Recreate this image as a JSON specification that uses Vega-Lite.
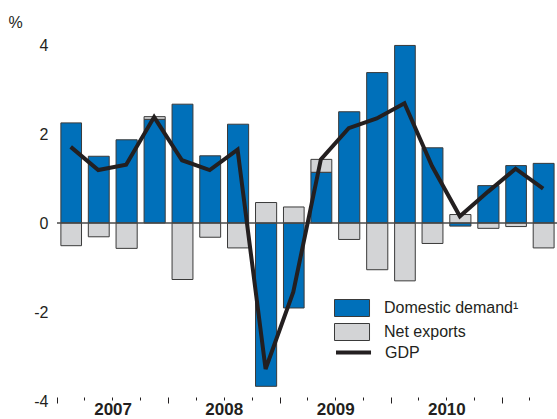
{
  "$schema": "https://vega.github.io/schema/vega-lite/v6.json",
  "width": 500,
  "height": 356,
  "autosize": {"type": "none"},
  "padding": {"left": 57, "top": 45, "right": 0, "bottom": 18},
  "background": "white",
  "config": {
    "view": {"stroke": null},
    "font": "Liberation Sans",
    "text": {"font": "Liberation Sans"}
  },
  "title": {
    "text": "Contributions to annual change in GDP growth rate, seasonally adjusted",
    "anchor": "start",
    "frame": "group",
    "offset": 9,
    "dx": 8,
    "fontSize": 16,
    "fontWeight": "normal",
    "color": "#231f20",
    "baseline": "alphabetic"
  },
  "datasets": {
    "components": [
      {"date": "2007-01-01", "series": "Domestic demand¹", "value": 2.25},
      {"date": "2007-01-01", "series": "Net exports", "value": -0.51},
      {"date": "2007-04-01", "series": "Domestic demand¹", "value": 1.50},
      {"date": "2007-04-01", "series": "Net exports", "value": -0.31},
      {"date": "2007-07-01", "series": "Domestic demand¹", "value": 1.87},
      {"date": "2007-07-01", "series": "Net exports", "value": -0.57},
      {"date": "2007-10-01", "series": "Domestic demand¹", "value": 2.33},
      {"date": "2007-10-01", "series": "Net exports", "value": 0.06},
      {"date": "2008-01-01", "series": "Domestic demand¹", "value": 2.67},
      {"date": "2008-01-01", "series": "Net exports", "value": -1.27},
      {"date": "2008-04-01", "series": "Domestic demand¹", "value": 1.51},
      {"date": "2008-04-01", "series": "Net exports", "value": -0.32},
      {"date": "2008-07-01", "series": "Domestic demand¹", "value": 2.22},
      {"date": "2008-07-01", "series": "Net exports", "value": -0.56},
      {"date": "2008-10-01", "series": "Domestic demand¹", "value": -3.67},
      {"date": "2008-10-01", "series": "Net exports", "value": 0.46},
      {"date": "2009-01-01", "series": "Domestic demand¹", "value": -1.91},
      {"date": "2009-01-01", "series": "Net exports", "value": 0.36},
      {"date": "2009-04-01", "series": "Domestic demand¹", "value": 1.14},
      {"date": "2009-04-01", "series": "Net exports", "value": 0.29},
      {"date": "2009-07-01", "series": "Domestic demand¹", "value": 2.50},
      {"date": "2009-07-01", "series": "Net exports", "value": -0.37},
      {"date": "2009-10-01", "series": "Domestic demand¹", "value": 3.38},
      {"date": "2009-10-01", "series": "Net exports", "value": -1.05},
      {"date": "2010-01-01", "series": "Domestic demand¹", "value": 3.99},
      {"date": "2010-01-01", "series": "Net exports", "value": -1.30},
      {"date": "2010-04-01", "series": "Domestic demand¹", "value": 1.69},
      {"date": "2010-04-01", "series": "Net exports", "value": -0.46},
      {"date": "2010-07-01", "series": "Domestic demand¹", "value": -0.07},
      {"date": "2010-07-01", "series": "Net exports", "value": 0.19},
      {"date": "2010-10-01", "series": "Domestic demand¹", "value": 0.84},
      {"date": "2010-10-01", "series": "Net exports", "value": -0.12},
      {"date": "2011-01-01", "series": "Domestic demand¹", "value": 1.29},
      {"date": "2011-01-01", "series": "Net exports", "value": -0.08},
      {"date": "2011-04-01", "series": "Domestic demand¹", "value": 1.34},
      {"date": "2011-04-01", "series": "Net exports", "value": -0.56}
    ],
    "gdp": [
      {"date": "2007-01-01", "series": "GDP", "value": 1.71},
      {"date": "2007-04-01", "series": "GDP", "value": 1.19},
      {"date": "2007-07-01", "series": "GDP", "value": 1.31},
      {"date": "2007-10-01", "series": "GDP", "value": 2.38},
      {"date": "2008-01-01", "series": "GDP", "value": 1.41},
      {"date": "2008-04-01", "series": "GDP", "value": 1.19},
      {"date": "2008-07-01", "series": "GDP", "value": 1.65},
      {"date": "2008-10-01", "series": "GDP", "value": -3.28},
      {"date": "2009-01-01", "series": "GDP", "value": -1.55},
      {"date": "2009-04-01", "series": "GDP", "value": 1.43},
      {"date": "2009-07-01", "series": "GDP", "value": 2.13},
      {"date": "2009-10-01", "series": "GDP", "value": 2.35},
      {"date": "2010-01-01", "series": "GDP", "value": 2.69},
      {"date": "2010-04-01", "series": "GDP", "value": 1.28},
      {"date": "2010-07-01", "series": "GDP", "value": 0.15},
      {"date": "2010-10-01", "series": "GDP", "value": 0.70},
      {"date": "2011-01-01", "series": "GDP", "value": 1.22},
      {"date": "2011-04-01", "series": "GDP", "value": 0.77}
    ]
  },
  "layer": [
    {
      "data": {"name": "components"},
      "mark": {"type": "bar", "width": {"band": 0.79}, "stroke": "#3a3a3a", "strokeWidth": 1},
      "encoding": {
        "x": {
          "field": "date",
          "timeUnit": "utcyearquarter",
          "type": "temporal",
          "scale": {
            "domain": [
              {"year": 2007, "month": 1, "date": 1, "utc": true},
              {"year": 2011, "month": 7, "date": 1, "utc": true}
            ],
            "nice": false
          },
          "axis": {
            "title": null,
            "domain": false,
            "grid": false,
            "tickCount": {"interval": "month", "step": 3},
            "labelExpr": "utcmonth(datum.value) == 0 && utcyear(datum.value) < 2011 ? '' + utcyear(datum.value) : ''",
            "labelOffset": 55.6,
            "labelFontSize": 17,
            "labelFontWeight": "bold",
            "labelColor": "#231f20",
            "labelPadding": -2,
            "labelOverlap": false,
            "labelBound": false,
            "labelFlush": false,
            "tickColor": "#231f20",
            "tickWidth": 1,
            "tickSize": {"condition": {"test": "utcmonth(datum.value) == 0", "value": 6}, "value": 3},
            "offset": -4
          }
        },
        "y": {
          "field": "value",
          "type": "quantitative",
          "stack": "zero",
          "scale": {"domain": [-4, 4], "nice": false},
          "axis": {
            "title": "%",
            "titleAngle": 0,
            "titleX": -49,
            "titleY": -18,
            "titleAlign": "left",
            "titleBaseline": "alphabetic",
            "titleFontSize": 16,
            "titleFontWeight": "normal",
            "titleColor": "#231f20",
            "values": [-4, -2, 0, 2, 4],
            "labelExpr": "'' + datum.value",
            "domain": false,
            "ticks": false,
            "grid": false,
            "labelPadding": 9,
            "labelFontSize": 16,
            "labelColor": "#231f20"
          }
        },
        "order": {"field": "series", "sort": "ascending"},
        "fill": {
          "field": "series",
          "type": "nominal",
          "scale": {"domain": ["Domestic demand¹", "Net exports"], "range": ["#0070ba", "#d3d4d6"]},
          "legend": {
            "title": null,
            "orient": "none",
            "legendX": 277,
            "legendY": 254,
            "symbolType": "M-1,-1H3.12V1H-1Z",
            "symbolSize": 289,
            "symbolStrokeColor": "#3a3a3a",
            "symbolStrokeWidth": 1,
            "symbolOpacity": 1,
            "labelFontSize": 16,
            "labelColor": "#231f20",
            "labelOffset": 32,
            "rowPadding": 2,
            "padding": 0
          }
        }
      }
    },
    {
      "data": {"values": [{"y": 0}]},
      "mark": {"type": "rule", "color": "#4a4a4a", "strokeWidth": 1.5},
      "encoding": {"y": {"field": "y", "type": "quantitative"}}
    },
    {
      "data": {"name": "gdp"},
      "mark": {"type": "line", "strokeWidth": 4},
      "encoding": {
        "x": {"field": "date", "timeUnit": "utcyearquarter", "type": "temporal", "bandPosition": 0.5},
        "y": {"field": "value", "type": "quantitative"},
        "stroke": {
          "field": "series",
          "type": "nominal",
          "scale": {"domain": ["GDP"], "range": ["#231f20"]},
          "legend": {
            "title": null,
            "orient": "none",
            "legendX": 277,
            "legendY": 297,
            "symbolType": "M-1,0H3.12",
            "symbolSize": 289,
            "symbolStrokeWidth": 4,
            "symbolFillColor": "transparent",
            "labelFontSize": 16,
            "labelColor": "#231f20",
            "labelOffset": 30,
            "padding": 0
          }
        }
      }
    }
  ]
}
